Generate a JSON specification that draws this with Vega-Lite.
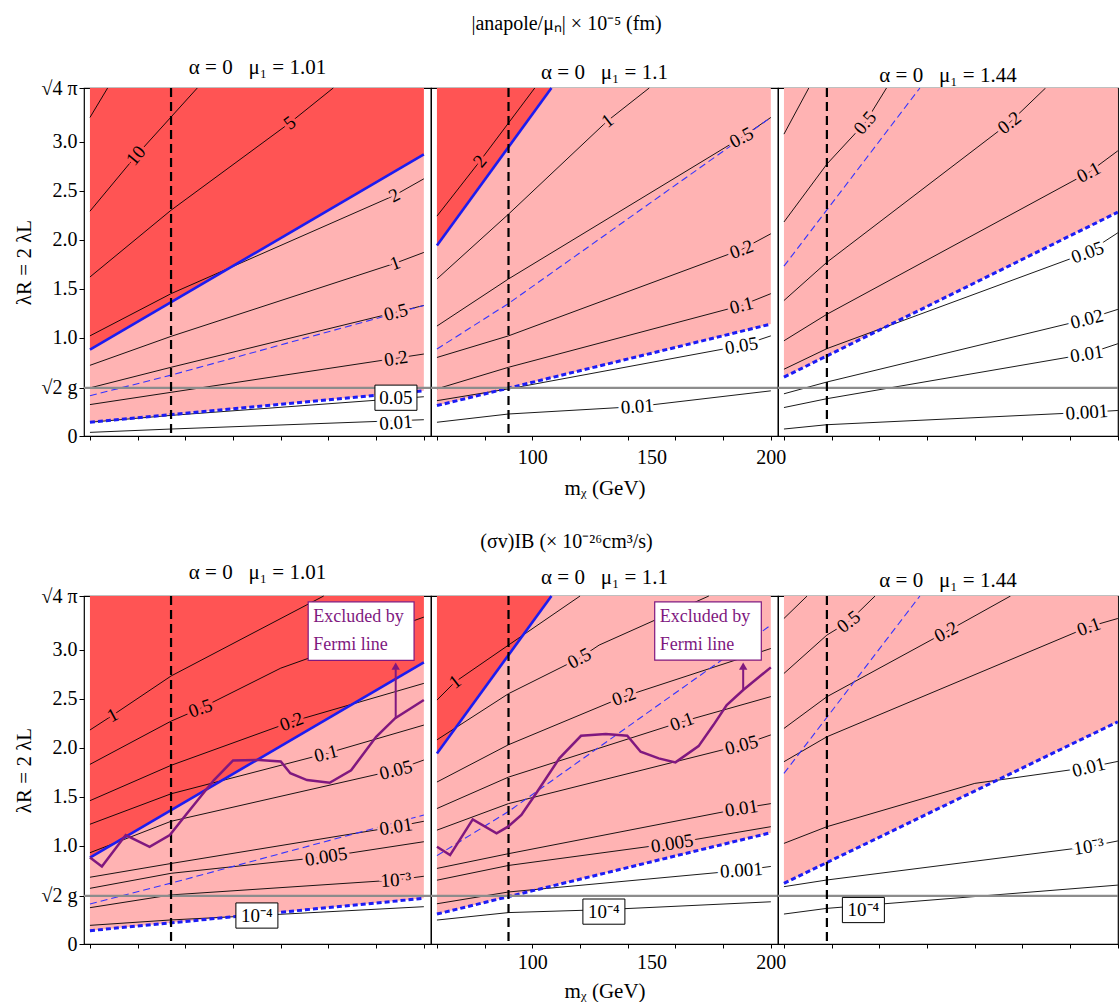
{
"$schema":"https://vega.github.io/schema/vega-lite/v6.json",
"padding":{"left":13,"top":14,"right":0,"bottom":0},
"config":{"font":"Liberation Serif","view":{"stroke":"black","strokeWidth":1.2},
"axis":{"grid":false,"domain":false,"labelFont":"Liberation Serif","labelFontSize":20,"labelColor":"black","tickColor":"black","titleFont":"Liberation Serif","titleFontSize":21,"titleFontWeight":"normal","titleColor":"black","labelFlush":false,"labelOverlap":false},
"title":{"font":"Liberation Serif","fontSize":21,"fontWeight":"normal","color":"black"}},
"datasets":{"d":[
{"p":"a1","k":"bs","x":60,"y":0.88},{"p":"a1","k":"bs","x":200,"y":2.87},
{"p":"a1","k":"bt","x":60,"y":0.14},{"p":"a1","k":"bt","x":200,"y":0.46},
{"p":"a1","k":"bd","x":60,"y":0.41},{"p":"a1","k":"bd","x":94,"y":0.62},{"p":"a1","k":"bd","x":200,"y":1.33},
{"p":"a1","k":"c","i":"20","x":60,"y":3.245},{"p":"a1","k":"c","i":"20","x":67.4,"y":3.545},
{"p":"a1","k":"c","i":"10","x":60,"y":2.29},{"p":"a1","k":"c","i":"10","x":79.3,"y":2.855},{"p":"a1","k":"c","i":"10","x":105,"y":3.545},
{"p":"a1","k":"c","i":"5","x":60,"y":1.62},{"p":"a1","k":"c","i":"5","x":94,"y":2.3},{"p":"a1","k":"c","i":"5","x":143.8,"y":3.19},{"p":"a1","k":"c","i":"5","x":162,"y":3.545},
{"p":"a1","k":"c","i":"2","x":60,"y":1.02},{"p":"a1","k":"c","i":"2","x":94,"y":1.45},{"p":"a1","k":"c","i":"2","x":187.6,"y":2.45},{"p":"a1","k":"c","i":"2","x":200,"y":2.62},
{"p":"a1","k":"c","i":"1","x":60,"y":0.72},{"p":"a1","k":"c","i":"1","x":94,"y":1.015},{"p":"a1","k":"c","i":"1","x":188,"y":1.76},{"p":"a1","k":"c","i":"1","x":200,"y":1.87},
{"p":"a1","k":"c","i":"0.5","x":60,"y":0.49},{"p":"a1","k":"c","i":"0.5","x":94,"y":0.70},{"p":"a1","k":"c","i":"0.5","x":200,"y":1.33},
{"p":"a1","k":"c","i":"0.2","x":60,"y":0.32},{"p":"a1","k":"c","i":"0.2","x":94,"y":0.445},{"p":"a1","k":"c","i":"0.2","x":200,"y":0.835},
{"p":"a1","k":"c","i":"0.05","x":60,"y":0.14},{"p":"a1","k":"c","i":"0.05","x":94,"y":0.21},{"p":"a1","k":"c","i":"0.05","x":200,"y":0.40},
{"p":"a1","k":"c","i":"0.01","x":60,"y":0.037},{"p":"a1","k":"c","i":"0.01","x":94,"y":0.071},{"p":"a1","k":"c","i":"0.01","x":200,"y":0.166},
{"p":"a1","k":"h","y":0.49},{"p":"a1","k":"v","x":94},
{"p":"a1","k":"t","t":"10","x":79.3,"y":2.855,"g":1,"b":"x"},
{"p":"a1","k":"t","t":"5","x":143.8,"y":3.19,"g":2,"b":"x"},
{"p":"a1","k":"t","t":"2","x":187.6,"y":2.45,"g":3,"b":"a"},
{"p":"a1","k":"t","t":"1","x":188,"y":1.76,"g":4,"b":"a"},
{"p":"a1","k":"t","t":"0.5","x":188.3,"y":1.26,"g":5,"b":"a"},
{"p":"a1","k":"t","t":"0.2","x":188.3,"y":0.79,"g":6,"b":"a"},
{"p":"a1","k":"t","t":"0.01","x":188.3,"y":0.135,"g":7,"b":"n"},
{"p":"a1","k":"tb","t":"0.05","x":188.3,"y":0.39},

{"p":"a2","k":"bs","x":60,"y":1.94},{"p":"a2","k":"bs","x":108,"y":3.545},
{"p":"a2","k":"bt","x":60,"y":0.31},{"p":"a2","k":"bt","x":200,"y":1.14},
{"p":"a2","k":"bd","x":60,"y":0.886},{"p":"a2","k":"bd","x":90,"y":1.35},{"p":"a2","k":"bd","x":200,"y":3.245},
{"p":"a2","k":"c","i":"2","x":60,"y":2.24},{"p":"a2","k":"c","i":"2","x":78,"y":2.8},{"p":"a2","k":"c","i":"2","x":101,"y":3.545},
{"p":"a2","k":"c","i":"1","x":60,"y":1.6},{"p":"a2","k":"c","i":"1","x":90,"y":2.26},{"p":"a2","k":"c","i":"1","x":131.5,"y":3.21},{"p":"a2","k":"c","i":"1","x":149,"y":3.545},
{"p":"a2","k":"c","i":"0.5","x":60,"y":1.12},{"p":"a2","k":"c","i":"0.5","x":90,"y":1.6},{"p":"a2","k":"c","i":"0.5","x":187.7,"y":3.04},{"p":"a2","k":"c","i":"0.5","x":200,"y":3.245},
{"p":"a2","k":"c","i":"0.2","x":60,"y":0.80},{"p":"a2","k":"c","i":"0.2","x":90,"y":1.02},{"p":"a2","k":"c","i":"0.2","x":187.7,"y":1.90},{"p":"a2","k":"c","i":"0.2","x":200,"y":2.06},
{"p":"a2","k":"c","i":"0.1","x":60,"y":0.48},{"p":"a2","k":"c","i":"0.1","x":90,"y":0.70},{"p":"a2","k":"c","i":"0.1","x":187.7,"y":1.33},{"p":"a2","k":"c","i":"0.1","x":200,"y":1.45},
{"p":"a2","k":"c","i":"0.05","x":60,"y":0.36},{"p":"a2","k":"c","i":"0.05","x":90,"y":0.48},{"p":"a2","k":"c","i":"0.05","x":187.7,"y":0.92},{"p":"a2","k":"c","i":"0.05","x":200,"y":1.02},
{"p":"a2","k":"c","i":"0.01","x":60,"y":0.14},{"p":"a2","k":"c","i":"0.01","x":90,"y":0.224},{"p":"a2","k":"c","i":"0.01","x":144,"y":0.30},{"p":"a2","k":"c","i":"0.01","x":200,"y":0.46},
{"p":"a2","k":"h","y":0.49},{"p":"a2","k":"v","x":90},
{"p":"a2","k":"t","t":"2","x":78,"y":2.8,"g":1,"b":"x"},
{"p":"a2","k":"t","t":"1","x":131.5,"y":3.21,"g":2,"b":"a"},
{"p":"a2","k":"t","t":"0.5","x":187.7,"y":3.04,"g":3,"b":"a"},
{"p":"a2","k":"t","t":"0.2","x":187.7,"y":1.90,"g":4,"b":"a"},
{"p":"a2","k":"t","t":"0.1","x":187.7,"y":1.33,"g":5,"b":"a"},
{"p":"a2","k":"t","t":"0.05","x":187.7,"y":0.92,"g":6,"b":"n"},
{"p":"a2","k":"t","t":"0.01","x":144,"y":0.30,"g":7,"b":"n"},

{"p":"a3","k":"bt","x":60,"y":0.6},{"p":"a3","k":"bt","x":200,"y":2.28},
{"p":"a3","k":"bd","x":60,"y":1.73},{"p":"a3","k":"bd","x":117,"y":3.545},
{"p":"a3","k":"c","i":"1","x":60,"y":3.075},{"p":"a3","k":"c","i":"1","x":70.4,"y":3.545},
{"p":"a3","k":"c","i":"0.5","x":60,"y":2.18},{"p":"a3","k":"c","i":"0.5","x":78,"y":2.77},{"p":"a3","k":"c","i":"0.5","x":94,"y":3.19},{"p":"a3","k":"c","i":"0.5","x":103,"y":3.545},
{"p":"a3","k":"c","i":"0.2","x":60,"y":1.38},{"p":"a3","k":"c","i":"0.2","x":78,"y":1.77},{"p":"a3","k":"c","i":"0.2","x":154.5,"y":3.19},{"p":"a3","k":"c","i":"0.2","x":169.7,"y":3.545},
{"p":"a3","k":"c","i":"0.1","x":60,"y":0.97},{"p":"a3","k":"c","i":"0.1","x":78,"y":1.24},{"p":"a3","k":"c","i":"0.1","x":187.8,"y":2.685},{"p":"a3","k":"c","i":"0.1","x":200,"y":2.905},
{"p":"a3","k":"c","i":"0.05","x":60,"y":0.68},{"p":"a3","k":"c","i":"0.05","x":78,"y":0.89},{"p":"a3","k":"c","i":"0.05","x":187.3,"y":1.87},{"p":"a3","k":"c","i":"0.05","x":200,"y":2.07},
{"p":"a3","k":"c","i":"0.02","x":60,"y":0.43},{"p":"a3","k":"c","i":"0.02","x":78,"y":0.55},{"p":"a3","k":"c","i":"0.02","x":187,"y":1.19},{"p":"a3","k":"c","i":"0.02","x":200,"y":1.29},
{"p":"a3","k":"c","i":"0.01","x":60,"y":0.29},{"p":"a3","k":"c","i":"0.01","x":78,"y":0.38},{"p":"a3","k":"c","i":"0.01","x":187,"y":0.835},{"p":"a3","k":"c","i":"0.01","x":200,"y":0.94},
{"p":"a3","k":"c","i":"0.001","x":60,"y":0.071},{"p":"a3","k":"c","i":"0.001","x":78,"y":0.115},{"p":"a3","k":"c","i":"0.001","x":187,"y":0.241},{"p":"a3","k":"c","i":"0.001","x":200,"y":0.26},
{"p":"a3","k":"h","y":0.49},{"p":"a3","k":"v","x":78},
{"p":"a3","k":"t","t":"0.5","x":94,"y":3.19,"g":1,"b":"a"},
{"p":"a3","k":"t","t":"0.2","x":154.5,"y":3.19,"g":2,"b":"a"},
{"p":"a3","k":"t","t":"0.1","x":187.8,"y":2.685,"g":3,"b":"a"},
{"p":"a3","k":"t","t":"0.05","x":187.3,"y":1.87,"g":4,"b":"n"},
{"p":"a3","k":"t","t":"0.02","x":187,"y":1.19,"g":5,"b":"n"},
{"p":"a3","k":"t","t":"0.01","x":187,"y":0.835,"g":6,"b":"n"},
{"p":"a3","k":"t","t":"0.001","x":187,"y":0.241,"g":7,"b":"n"},

{"p":"b1","k":"bs","x":60,"y":0.88},{"p":"b1","k":"bs","x":200,"y":2.87},
{"p":"b1","k":"bt","x":60,"y":0.136},{"p":"b1","k":"bt","x":200,"y":0.465},
{"p":"b1","k":"bd","x":60,"y":0.407},{"p":"b1","k":"bd","x":94,"y":0.62},{"p":"b1","k":"bd","x":200,"y":1.314},
{"p":"b1","k":"c","i":"1","x":60,"y":2.18},{"p":"b1","k":"c","i":"1","x":69.5,"y":2.33},{"p":"b1","k":"c","i":"1","x":94,"y":2.73},{"p":"b1","k":"c","i":"1","x":158,"y":3.545},
{"p":"b1","k":"c","i":"0.5","x":60,"y":1.83},{"p":"b1","k":"c","i":"0.5","x":94,"y":2.27},{"p":"b1","k":"c","i":"0.5","x":106.3,"y":2.40},{"p":"b1","k":"c","i":"0.5","x":140,"y":2.81},{"p":"b1","k":"c","i":"0.5","x":200,"y":3.33},
{"p":"b1","k":"c","i":"0.2","x":60,"y":1.46},{"p":"b1","k":"c","i":"0.2","x":94,"y":1.82},{"p":"b1","k":"c","i":"0.2","x":144.5,"y":2.264},{"p":"b1","k":"c","i":"0.2","x":200,"y":2.655},
{"p":"b1","k":"c","i":"0.1","x":60,"y":1.22},{"p":"b1","k":"c","i":"0.1","x":94,"y":1.53},{"p":"b1","k":"c","i":"0.1","x":159,"y":1.94},{"p":"b1","k":"c","i":"0.1","x":200,"y":2.23},
{"p":"b1","k":"c","i":"0.05","x":60,"y":0.93},{"p":"b1","k":"c","i":"0.05","x":94,"y":1.25},{"p":"b1","k":"c","i":"0.05","x":188.3,"y":1.772},{"p":"b1","k":"c","i":"0.05","x":200,"y":1.874},
{"p":"b1","k":"c","i":"0.01","x":60,"y":0.68},{"p":"b1","k":"c","i":"0.01","x":94,"y":0.82},{"p":"b1","k":"c","i":"0.01","x":188.3,"y":1.195},{"p":"b1","k":"c","i":"0.01","x":200,"y":1.25},
{"p":"b1","k":"c","i":"0.005","x":60,"y":0.567},{"p":"b1","k":"c","i":"0.005","x":94,"y":0.72},{"p":"b1","k":"c","i":"0.005","x":159,"y":0.889},{"p":"b1","k":"c","i":"0.005","x":200,"y":1.042},
{"p":"b1","k":"c","i":"0.001","x":60,"y":0.37},{"p":"b1","k":"c","i":"0.001","x":94,"y":0.50},{"p":"b1","k":"c","i":"0.001","x":188.3,"y":0.652},{"p":"b1","k":"c","i":"0.001","x":200,"y":0.69},
{"p":"b1","k":"c","i":"0.0001","x":60,"y":0.19},{"p":"b1","k":"c","i":"0.0001","x":94,"y":0.245},{"p":"b1","k":"c","i":"0.0001","x":130,"y":0.29},{"p":"b1","k":"c","i":"0.0001","x":200,"y":0.38},
{"p":"b1","k":"h","y":0.49},{"p":"b1","k":"v","x":94},
{"p":"b1","k":"t","t":"1","x":69.5,"y":2.33,"g":3,"b":"x"},
{"p":"b1","k":"t","t":"0.5","x":106.3,"y":2.40,"g":4,"b":"x"},
{"p":"b1","k":"t","t":"0.2","x":144.5,"y":2.264,"g":4,"b":"x"},
{"p":"b1","k":"t","t":"0.1","x":159,"y":1.94,"g":5,"b":"a"},
{"p":"b1","k":"t","t":"0.05","x":188.3,"y":1.772,"g":5,"b":"a"},
{"p":"b1","k":"t","t":"0.01","x":188.3,"y":1.195,"g":6,"b":"a"},
{"p":"b1","k":"t","t":"0.005","x":159,"y":0.889,"g":6,"b":"a"},
{"p":"b1","k":"t","t":"10⁻³","x":188.3,"y":0.652,"g":7,"b":"a"},
{"p":"b1","k":"tb","t":"10⁻⁴","x":130,"y":0.29},
{"p":"b1","k":"f","x":60,"y":0.88},{"p":"b1","k":"f","x":65,"y":0.79},{"p":"b1","k":"f","x":75,"y":1.11},{"p":"b1","k":"f","x":85,"y":0.99},{"p":"b1","k":"f","x":93.5,"y":1.11},{"p":"b1","k":"f","x":100,"y":1.31},{"p":"b1","k":"f","x":112,"y":1.67},{"p":"b1","k":"f","x":120,"y":1.87},{"p":"b1","k":"f","x":131,"y":1.875},{"p":"b1","k":"f","x":140,"y":1.86},{"p":"b1","k":"f","x":144,"y":1.74},{"p":"b1","k":"f","x":151,"y":1.67},{"p":"b1","k":"f","x":160.5,"y":1.643},{"p":"b1","k":"f","x":169.5,"y":1.77},{"p":"b1","k":"f","x":180,"y":2.11},{"p":"b1","k":"f","x":188,"y":2.30},{"p":"b1","k":"f","x":200,"y":2.485},
{"p":"b1","k":"fa","x":188.2,"y":2.30,"y2":2.80},{"p":"b1","k":"fh","x":188.2,"y":2.83},
{"p":"b1","k":"fb","x":151.5,"x2":195.9,"y":2.89,"y2":3.486},
{"p":"b1","k":"ft","t":"Excluded by","x":153.6,"y":3.333},{"p":"b1","k":"ft","t":"Fermi line","x":153.6,"y":3.045},

{"p":"b2","k":"bs","x":60,"y":1.94},{"p":"b2","k":"bs","x":108,"y":3.545},
{"p":"b2","k":"bt","x":60,"y":0.305},{"p":"b2","k":"bt","x":200,"y":1.134},
{"p":"b2","k":"bd","x":60,"y":0.90},{"p":"b2","k":"bd","x":90,"y":1.35},{"p":"b2","k":"bd","x":200,"y":3.248},
{"p":"b2","k":"c","i":"1","x":60,"y":2.485},{"p":"b2","k":"c","i":"1","x":67.6,"y":2.67},{"p":"b2","k":"c","i":"1","x":90,"y":3.045},{"p":"b2","k":"c","i":"1","x":120,"y":3.545},
{"p":"b2","k":"c","i":"0.5","x":60,"y":2.08},{"p":"b2","k":"c","i":"0.5","x":90,"y":2.55},{"p":"b2","k":"c","i":"0.5","x":119.7,"y":2.91},{"p":"b2","k":"c","i":"0.5","x":128,"y":3.045},{"p":"b2","k":"c","i":"0.5","x":174,"y":3.545},
{"p":"b2","k":"c","i":"0.2","x":60,"y":1.65},{"p":"b2","k":"c","i":"0.2","x":90,"y":2.03},{"p":"b2","k":"c","i":"0.2","x":138.4,"y":2.52},{"p":"b2","k":"c","i":"0.2","x":200,"y":3.01},
{"p":"b2","k":"c","i":"0.1","x":60,"y":1.38},{"p":"b2","k":"c","i":"0.1","x":90,"y":1.70},{"p":"b2","k":"c","i":"0.1","x":162.7,"y":2.264},{"p":"b2","k":"c","i":"0.1","x":200,"y":2.52},
{"p":"b2","k":"c","i":"0.05","x":60,"y":1.16},{"p":"b2","k":"c","i":"0.05","x":90,"y":1.43},{"p":"b2","k":"c","i":"0.05","x":187.7,"y":2.026},{"p":"b2","k":"c","i":"0.05","x":200,"y":2.13},
{"p":"b2","k":"c","i":"0.01","x":60,"y":0.77},{"p":"b2","k":"c","i":"0.01","x":90,"y":0.92},{"p":"b2","k":"c","i":"0.01","x":187.7,"y":1.382},{"p":"b2","k":"c","i":"0.01","x":200,"y":1.43},
{"p":"b2","k":"c","i":"0.005","x":60,"y":0.65},{"p":"b2","k":"c","i":"0.005","x":90,"y":0.80},{"p":"b2","k":"c","i":"0.005","x":158.6,"y":1.025},{"p":"b2","k":"c","i":"0.005","x":200,"y":1.195},
{"p":"b2","k":"c","i":"0.001","x":60,"y":0.41},{"p":"b2","k":"c","i":"0.001","x":90,"y":0.53},{"p":"b2","k":"c","i":"0.001","x":187.7,"y":0.75},{"p":"b2","k":"c","i":"0.001","x":200,"y":0.79},
{"p":"b2","k":"c","i":"0.0001","x":60,"y":0.244},{"p":"b2","k":"c","i":"0.0001","x":90,"y":0.32},{"p":"b2","k":"c","i":"0.0001","x":130,"y":0.35},{"p":"b2","k":"c","i":"0.0001","x":200,"y":0.43},
{"p":"b2","k":"h","y":0.49},{"p":"b2","k":"v","x":90},
{"p":"b2","k":"t","t":"1","x":67.6,"y":2.67,"g":2,"b":"x"},
{"p":"b2","k":"t","t":"0.5","x":119.7,"y":2.91,"g":3,"b":"a"},
{"p":"b2","k":"t","t":"0.2","x":138.4,"y":2.52,"g":4,"b":"a"},
{"p":"b2","k":"t","t":"0.1","x":162.7,"y":2.264,"g":4,"b":"a"},
{"p":"b2","k":"t","t":"0.05","x":187.7,"y":2.026,"g":5,"b":"a"},
{"p":"b2","k":"t","t":"0.01","x":187.7,"y":1.382,"g":6,"b":"a"},
{"p":"b2","k":"t","t":"0.005","x":158.6,"y":1.025,"g":6,"b":"a"},
{"p":"b2","k":"t","t":"0.001","x":187.7,"y":0.75,"g":7,"b":"n"},
{"p":"b2","k":"tb","t":"10⁻⁴","x":130,"y":0.33},
{"p":"b2","k":"f","x":60,"y":0.99},{"p":"b2","k":"f","x":65.5,"y":0.906},{"p":"b2","k":"f","x":75,"y":1.27},{"p":"b2","k":"f","x":85,"y":1.127},{"p":"b2","k":"f","x":89.8,"y":1.195},{"p":"b2","k":"f","x":95.4,"y":1.314},{"p":"b2","k":"f","x":101.6,"y":1.535},{"p":"b2","k":"f","x":111.3,"y":1.891},{"p":"b2","k":"f","x":120.4,"y":2.121},{"p":"b2","k":"f","x":130.8,"y":2.138},{"p":"b2","k":"f","x":139.8,"y":2.121},{"p":"b2","k":"f","x":145.4,"y":1.958},{"p":"b2","k":"f","x":153,"y":1.891},{"p":"b2","k":"f","x":160,"y":1.85},{"p":"b2","k":"f","x":169.7,"y":2.016},{"p":"b2","k":"f","x":175.9,"y":2.23},{"p":"b2","k":"f","x":181.5,"y":2.434},{"p":"b2","k":"f","x":188.4,"y":2.587},{"p":"b2","k":"f","x":200,"y":2.818},
{"p":"b2","k":"fa","x":188.4,"y":2.587,"y2":2.80},{"p":"b2","k":"fh","x":188.4,"y":2.83},
{"p":"b2","k":"fb","x":151.3,"x2":196,"y":2.892,"y2":3.486},
{"p":"b2","k":"ft","t":"Excluded by","x":153.4,"y":3.333},{"p":"b2","k":"ft","t":"Fermi line","x":153.4,"y":3.045},

{"p":"b3","k":"bt","x":60,"y":0.618},{"p":"b3","k":"bt","x":200,"y":2.264},
{"p":"b3","k":"bd","x":60,"y":1.738},{"p":"b3","k":"bd","x":117,"y":3.545},
{"p":"b3","k":"c","i":"1","x":60,"y":3.316},{"p":"b3","k":"c","i":"1","x":69.7,"y":3.545},
{"p":"b3","k":"c","i":"0.5","x":60,"y":2.756},{"p":"b3","k":"c","i":"0.5","x":78,"y":3.147},{"p":"b3","k":"c","i":"0.5","x":87.1,"y":3.282},{"p":"b3","k":"c","i":"0.5","x":98.2,"y":3.545},
{"p":"b3","k":"c","i":"0.2","x":60,"y":2.196},{"p":"b3","k":"c","i":"0.2","x":78,"y":2.519},{"p":"b3","k":"c","i":"0.2","x":128,"y":3.18},{"p":"b3","k":"c","i":"0.2","x":155,"y":3.545},
{"p":"b3","k":"c","i":"0.1","x":60,"y":1.857},{"p":"b3","k":"c","i":"0.1","x":78,"y":2.111},{"p":"b3","k":"c","i":"0.1","x":187.8,"y":3.231},{"p":"b3","k":"c","i":"0.1","x":200,"y":3.316},
{"p":"b3","k":"c","i":"0.01","x":60,"y":1.025},{"p":"b3","k":"c","i":"0.01","x":78,"y":1.195},{"p":"b3","k":"c","i":"0.01","x":140,"y":1.636},{"p":"b3","k":"c","i":"0.01","x":187.8,"y":1.80},{"p":"b3","k":"c","i":"0.01","x":200,"y":1.86},
{"p":"b3","k":"c","i":"0.001","x":60,"y":0.584},{"p":"b3","k":"c","i":"0.001","x":78,"y":0.652},{"p":"b3","k":"c","i":"0.001","x":187.8,"y":0.991},{"p":"b3","k":"c","i":"0.001","x":200,"y":1.05},
{"p":"b3","k":"c","i":"0.0001","x":60,"y":0.305},{"p":"b3","k":"c","i":"0.0001","x":78,"y":0.363},{"p":"b3","k":"c","i":"0.0001","x":200,"y":0.60},
{"p":"b3","k":"h","y":0.49},{"p":"b3","k":"v","x":78},
{"p":"b3","k":"t","t":"0.5","x":87.1,"y":3.282,"g":2,"b":"a"},
{"p":"b3","k":"t","t":"0.2","x":128,"y":3.18,"g":3,"b":"a"},
{"p":"b3","k":"t","t":"0.1","x":187.8,"y":3.231,"g":4,"b":"a"},
{"p":"b3","k":"t","t":"0.01","x":187.8,"y":1.80,"g":5,"b":"n"},
{"p":"b3","k":"t","t":"10⁻³","x":187.8,"y":0.991,"g":6,"b":"n"},
{"p":"b3","k":"tb","t":"10⁻⁴","x":93.3,"y":0.346}
]},
"data":{"name":"d"},
"spacing":33,
"vconcat":[
{"title":{"text":"|anapole/μₙ| × 10⁻⁵ (fm)","fontSize":20,"offset":22,"anchor":"middle"},
"spacing":0,"bounds":"flush",
"hconcat":[
{"width":347,"height":348,"title":{"text":"α = 0\u00a0\u00a0\u00a0μ₁ = 1.01","offset":0},
"transform":[{"filter":"datum.p == 'a1'"}],
"layer":[
{"transform":[{"filter":"datum.k == 'bt'"}],"mark":{"type":"area","color":"#ffb3b3"},"encoding":{"x":{"field":"x","type":"quantitative","scale":{"domain":[57.5,203],"nice":false,"zero":false},"axis":{"values":[60,70,80,90,100,110,120,130,140,150,160,170,180,190,200],"labels":false,"title":null,"tickSize":4}},"y":{"field":"y","type":"quantitative","scale":{"domain":[0,3.545],"nice":false,"zero":false},"axis":{"values":[0,0.49,1,1.5,2,2.5,3,3.545],"labelExpr":"datum.value == 0 ? '0' : datum.value < 0.6 ? '√2 g' : datum.value > 3.5 ? '√4 π' : format(datum.value, '.1f')","title":"λR = 2 λL","tickSize":5,"titlePadding":6}},"y2":{"datum":3.545}}},
{"transform":[{"filter":"datum.k == 'bs'"}],"mark":{"type":"area","color":"#ff5454"},"encoding":{"x":{"field":"x","type":"quantitative"},"y":{"field":"y","type":"quantitative"},"y2":{"datum":3.545}}},
{"transform":[{"filter":"datum.k == 'c'"}],"mark":{"type":"line","color":"black","strokeWidth":0.9},"encoding":{"x":{"field":"x","type":"quantitative"},"y":{"field":"y","type":"quantitative"},"detail":{"field":"i"}}},
{"transform":[{"filter":"datum.k == 'bd'"}],"mark":{"type":"line","color":"#3434ff","strokeWidth":1.1,"strokeDash":[7,4]},"encoding":{"x":{"field":"x","type":"quantitative"},"y":{"field":"y","type":"quantitative"}}},
{"transform":[{"filter":"datum.k == 'bt'"}],"mark":{"type":"line","color":"#1c1cf5","strokeWidth":3,"strokeDash":[5,3]},"encoding":{"x":{"field":"x","type":"quantitative"},"y":{"field":"y","type":"quantitative"}}},
{"transform":[{"filter":"datum.k == 'bs'"}],"mark":{"type":"line","color":"#1c1cf0","strokeWidth":2.6},"encoding":{"x":{"field":"x","type":"quantitative"},"y":{"field":"y","type":"quantitative"}}},
{"transform":[{"filter":"datum.k == 'h'"}],"mark":{"type":"rule","color":"#8c8c8c","strokeWidth":2.2},"encoding":{"y":{"field":"y","type":"quantitative"}}},
{"transform":[{"filter":"datum.k == 'v'"}],"mark":{"type":"rule","color":"black","strokeWidth":2.2,"strokeDash":[9,5]},"encoding":{"x":{"field":"x","type":"quantitative"}}},
{"transform":[{"filter":"datum.k == 't'"}],"mark":{"type":"text","fontSize":19,"strokeWidth":6},"encoding":{"x":{"field":"x","type":"quantitative"},"y":{"field":"y","type":"quantitative"},"text":{"field":"t"},"angle":{"field":"g","type":"quantitative","scale":{"domain":[1,2,3,4,5,6,7],"range":[310,322,332,340,346,351,356]}},"fill":{"field":"b","type":"nominal","scale":{"domain":["x","a","n"],"range":["#ff5454","#ffb3b3","#ffffff"]},"legend":null},"stroke":{"field":"b","type":"nominal","scale":{"domain":["x","a","n"],"range":["#ff5454","#ffb3b3","#ffffff"]},"legend":null}}},
{"transform":[{"filter":"datum.k == 't'"}],"mark":{"type":"text","fontSize":19,"color":"black"},"encoding":{"x":{"field":"x","type":"quantitative"},"y":{"field":"y","type":"quantitative"},"text":{"field":"t"},"angle":{"field":"g","type":"quantitative"}}},
{"transform":[{"filter":"datum.k == 'tb'"}],"mark":{"type":"point","shape":"M-1,-0.6H1V0.6H-1Z","size":1764,"filled":true,"fill":"white","stroke":"black","strokeWidth":1,"opacity":1},"encoding":{"x":{"field":"x","type":"quantitative"},"y":{"field":"y","type":"quantitative"}}},
{"transform":[{"filter":"datum.k == 'tb'"}],"mark":{"type":"text","fontSize":19,"color":"black"},"encoding":{"x":{"field":"x","type":"quantitative"},"y":{"field":"y","type":"quantitative"},"text":{"field":"t"}}}
]},
{"width":347,"height":348,"title":{"text":"α = 0\u00a0\u00a0\u00a0μ₁ = 1.1","offset":0},
"transform":[{"filter":"datum.p == 'a2'"}],
"resolve":{"axis":{"x":"independent"}},
"layer":[
{"layer":[
{"transform":[{"filter":"datum.k == 'bt'"}],"mark":{"type":"area","color":"#ffb3b3"},"encoding":{"x":{"field":"x","type":"quantitative","scale":{"domain":[57.5,203],"nice":false,"zero":false},"axis":{"orient":"bottom","values":[60,70,80,90,100,110,120,130,140,150,160,170,180,190,200],"labels":false,"title":null,"tickSize":4}},"y":{"field":"y","type":"quantitative","scale":{"domain":[0,3.545],"nice":false,"zero":false},"axis":{"labels":false,"ticks":false,"title":null}},"y2":{"datum":3.545}}},
{"transform":[{"filter":"datum.k == 'bs'"}],"mark":{"type":"area","color":"#ff5454"},"encoding":{"x":{"field":"x","type":"quantitative"},"y":{"field":"y","type":"quantitative"},"y2":{"datum":3.545}}},
{"transform":[{"filter":"datum.k == 'c'"}],"mark":{"type":"line","color":"black","strokeWidth":0.9},"encoding":{"x":{"field":"x","type":"quantitative"},"y":{"field":"y","type":"quantitative"},"detail":{"field":"i"}}},
{"transform":[{"filter":"datum.k == 'bd'"}],"mark":{"type":"line","color":"#3434ff","strokeWidth":1.1,"strokeDash":[7,4]},"encoding":{"x":{"field":"x","type":"quantitative"},"y":{"field":"y","type":"quantitative"}}},
{"transform":[{"filter":"datum.k == 'bt'"}],"mark":{"type":"line","color":"#1c1cf5","strokeWidth":3,"strokeDash":[5,3]},"encoding":{"x":{"field":"x","type":"quantitative"},"y":{"field":"y","type":"quantitative"}}},
{"transform":[{"filter":"datum.k == 'bs'"}],"mark":{"type":"line","color":"#1c1cf0","strokeWidth":2.6},"encoding":{"x":{"field":"x","type":"quantitative"},"y":{"field":"y","type":"quantitative"}}},
{"transform":[{"filter":"datum.k == 'h'"}],"mark":{"type":"rule","color":"#8c8c8c","strokeWidth":2.2},"encoding":{"y":{"field":"y","type":"quantitative"}}},
{"transform":[{"filter":"datum.k == 'v'"}],"mark":{"type":"rule","color":"black","strokeWidth":2.2,"strokeDash":[9,5]},"encoding":{"x":{"field":"x","type":"quantitative"}}},
{"transform":[{"filter":"datum.k == 't'"}],"mark":{"type":"text","fontSize":19,"strokeWidth":6},"encoding":{"x":{"field":"x","type":"quantitative"},"y":{"field":"y","type":"quantitative"},"text":{"field":"t"},"angle":{"field":"g","type":"quantitative","scale":{"domain":[1,2,3,4,5,6,7],"range":[310,322,332,340,346,351,356]}},"fill":{"field":"b","type":"nominal","scale":{"domain":["x","a","n"],"range":["#ff5454","#ffb3b3","#ffffff"]},"legend":null},"stroke":{"field":"b","type":"nominal","scale":{"domain":["x","a","n"],"range":["#ff5454","#ffb3b3","#ffffff"]},"legend":null}}},
{"transform":[{"filter":"datum.k == 't'"}],"mark":{"type":"text","fontSize":19,"color":"black"},"encoding":{"x":{"field":"x","type":"quantitative"},"y":{"field":"y","type":"quantitative"},"text":{"field":"t"},"angle":{"field":"g","type":"quantitative"}}}
]},
{"transform":[{"filter":"datum.k == 'v'"}],"mark":{"type":"rule","opacity":0},"encoding":{"x":{"field":"x","type":"quantitative","axis":{"orient":"bottom","values":[100,150,200],"ticks":false,"labelPadding":11,"title":"mᵪ (GeV)","titlePadding":10}}}}
]},
{"width":340,"height":348,"title":{"text":"α = 0\u00a0\u00a0\u00a0μ₁ = 1.44","offset":0},
"transform":[{"filter":"datum.p == 'a3'"}],
"layer":[
{"transform":[{"filter":"datum.k == 'bt'"}],"mark":{"type":"area","color":"#ffb3b3"},"encoding":{"x":{"field":"x","type":"quantitative","scale":{"domain":[57.5,200.06],"nice":false,"zero":false},"axis":{"values":[60,70,80,90,100,110,120,130,140,150,160,170,180,190,200],"labels":false,"title":null,"tickSize":4}},"y":{"field":"y","type":"quantitative","scale":{"domain":[0,3.545],"nice":false,"zero":false},"axis":{"labels":false,"ticks":false,"title":null}},"y2":{"datum":3.545}}},
{"transform":[{"filter":"datum.k == 'c'"}],"mark":{"type":"line","color":"black","strokeWidth":0.9,"clip":true},"encoding":{"x":{"field":"x","type":"quantitative"},"y":{"field":"y","type":"quantitative"},"detail":{"field":"i"}}},
{"transform":[{"filter":"datum.k == 'bd'"}],"mark":{"type":"line","color":"#3434ff","strokeWidth":1.1,"strokeDash":[7,4]},"encoding":{"x":{"field":"x","type":"quantitative"},"y":{"field":"y","type":"quantitative"}}},
{"transform":[{"filter":"datum.k == 'bt'"}],"mark":{"type":"line","color":"#1c1cf5","strokeWidth":3,"strokeDash":[5,3],"clip":true},"encoding":{"x":{"field":"x","type":"quantitative"},"y":{"field":"y","type":"quantitative"}}},
{"transform":[{"filter":"datum.k == 'h'"}],"mark":{"type":"rule","color":"#8c8c8c","strokeWidth":2.2},"encoding":{"y":{"field":"y","type":"quantitative"}}},
{"transform":[{"filter":"datum.k == 'v'"}],"mark":{"type":"rule","color":"black","strokeWidth":2.2,"strokeDash":[9,5]},"encoding":{"x":{"field":"x","type":"quantitative"}}},
{"transform":[{"filter":"datum.k == 't'"}],"mark":{"type":"text","fontSize":19,"strokeWidth":6},"encoding":{"x":{"field":"x","type":"quantitative"},"y":{"field":"y","type":"quantitative"},"text":{"field":"t"},"angle":{"field":"g","type":"quantitative","scale":{"domain":[1,2,3,4,5,6,7],"range":[310,322,332,340,346,351,356]}},"fill":{"field":"b","type":"nominal","scale":{"domain":["x","a","n"],"range":["#ff5454","#ffb3b3","#ffffff"]},"legend":null},"stroke":{"field":"b","type":"nominal","scale":{"domain":["x","a","n"],"range":["#ff5454","#ffb3b3","#ffffff"]},"legend":null}}},
{"transform":[{"filter":"datum.k == 't'"}],"mark":{"type":"text","fontSize":19,"color":"black"},"encoding":{"x":{"field":"x","type":"quantitative"},"y":{"field":"y","type":"quantitative"},"text":{"field":"t"},"angle":{"field":"g","type":"quantitative"}}}
]}
]},
{"title":{"text":"(σv)IB (× 10⁻²⁶cm³/s)","fontSize":20,"offset":9,"anchor":"middle"},
"spacing":0,"bounds":"flush",
"hconcat":[
{"width":347,"height":348,"title":{"text":"α = 0\u00a0\u00a0\u00a0μ₁ = 1.01","offset":3},
"transform":[{"filter":"datum.p == 'b1'"}],
"layer":[
{"transform":[{"filter":"datum.k == 'bt'"}],"mark":{"type":"area","color":"#ffb3b3"},"encoding":{"x":{"field":"x","type":"quantitative","scale":{"domain":[57.5,203],"nice":false,"zero":false},"axis":{"values":[60,70,80,90,100,110,120,130,140,150,160,170,180,190,200],"labels":false,"title":null,"tickSize":4}},"y":{"field":"y","type":"quantitative","scale":{"domain":[0,3.545],"nice":false,"zero":false},"axis":{"values":[0,0.49,1,1.5,2,2.5,3,3.545],"labelExpr":"datum.value == 0 ? '0' : datum.value < 0.6 ? '√2 g' : datum.value > 3.5 ? '√4 π' : format(datum.value, '.1f')","title":"λR = 2 λL","tickSize":5,"titlePadding":6}},"y2":{"datum":3.545}}},
{"transform":[{"filter":"datum.k == 'bs'"}],"mark":{"type":"area","color":"#ff5454"},"encoding":{"x":{"field":"x","type":"quantitative"},"y":{"field":"y","type":"quantitative"},"y2":{"datum":3.545}}},
{"transform":[{"filter":"datum.k == 'c'"}],"mark":{"type":"line","color":"black","strokeWidth":0.9},"encoding":{"x":{"field":"x","type":"quantitative"},"y":{"field":"y","type":"quantitative"},"detail":{"field":"i"}}},
{"transform":[{"filter":"datum.k == 'bd'"}],"mark":{"type":"line","color":"#3434ff","strokeWidth":1.1,"strokeDash":[7,4]},"encoding":{"x":{"field":"x","type":"quantitative"},"y":{"field":"y","type":"quantitative"}}},
{"transform":[{"filter":"datum.k == 'bt'"}],"mark":{"type":"line","color":"#1c1cf5","strokeWidth":3,"strokeDash":[5,3]},"encoding":{"x":{"field":"x","type":"quantitative"},"y":{"field":"y","type":"quantitative"}}},
{"transform":[{"filter":"datum.k == 'bs'"}],"mark":{"type":"line","color":"#1c1cf0","strokeWidth":2.6},"encoding":{"x":{"field":"x","type":"quantitative"},"y":{"field":"y","type":"quantitative"}}},
{"transform":[{"filter":"datum.k == 'h'"}],"mark":{"type":"rule","color":"#8c8c8c","strokeWidth":2.2},"encoding":{"y":{"field":"y","type":"quantitative"}}},
{"transform":[{"filter":"datum.k == 'v'"}],"mark":{"type":"rule","color":"black","strokeWidth":2.2,"strokeDash":[9,5]},"encoding":{"x":{"field":"x","type":"quantitative"}}},
{"transform":[{"filter":"datum.k == 't'"}],"mark":{"type":"text","fontSize":19,"strokeWidth":6},"encoding":{"x":{"field":"x","type":"quantitative"},"y":{"field":"y","type":"quantitative"},"text":{"field":"t"},"angle":{"field":"g","type":"quantitative","scale":{"domain":[1,2,3,4,5,6,7],"range":[310,322,332,340,346,351,356]}},"fill":{"field":"b","type":"nominal","scale":{"domain":["x","a","n"],"range":["#ff5454","#ffb3b3","#ffffff"]},"legend":null},"stroke":{"field":"b","type":"nominal","scale":{"domain":["x","a","n"],"range":["#ff5454","#ffb3b3","#ffffff"]},"legend":null}}},
{"transform":[{"filter":"datum.k == 't'"}],"mark":{"type":"text","fontSize":19,"color":"black"},"encoding":{"x":{"field":"x","type":"quantitative"},"y":{"field":"y","type":"quantitative"},"text":{"field":"t"},"angle":{"field":"g","type":"quantitative"}}},
{"transform":[{"filter":"datum.k == 'tb'"}],"mark":{"type":"point","shape":"M-1,-0.6H1V0.6H-1Z","size":1764,"filled":true,"fill":"white","stroke":"black","strokeWidth":1,"opacity":1},"encoding":{"x":{"field":"x","type":"quantitative"},"y":{"field":"y","type":"quantitative"}}},
{"transform":[{"filter":"datum.k == 'tb'"}],"mark":{"type":"text","fontSize":19,"color":"black"},"encoding":{"x":{"field":"x","type":"quantitative"},"y":{"field":"y","type":"quantitative"},"text":{"field":"t"}}},
{"transform":[{"filter":"datum.k == 'f'"}],"mark":{"type":"line","color":"#80187f","strokeWidth":2.5},"encoding":{"x":{"field":"x","type":"quantitative"},"y":{"field":"y","type":"quantitative"}}},
{"transform":[{"filter":"datum.k == 'fa'"}],"mark":{"type":"rule","color":"#80187f","strokeWidth":2},"encoding":{"x":{"field":"x","type":"quantitative"},"y":{"field":"y","type":"quantitative"},"y2":{"field":"y2"}}},
{"transform":[{"filter":"datum.k == 'fh'"}],"mark":{"type":"point","shape":"triangle-up","size":70,"filled":true,"color":"#80187f","opacity":1},"encoding":{"x":{"field":"x","type":"quantitative"},"y":{"field":"y","type":"quantitative"}}},
{"transform":[{"filter":"datum.k == 'fb'"}],"mark":{"type":"rect","fill":"white","stroke":"#80187f","strokeWidth":1.2},"encoding":{"x":{"field":"x","type":"quantitative"},"x2":{"field":"x2"},"y":{"field":"y","type":"quantitative"},"y2":{"field":"y2"}}},
{"transform":[{"filter":"datum.k == 'ft'"}],"mark":{"type":"text","fontSize":18,"align":"left","color":"#80187f"},"encoding":{"x":{"field":"x","type":"quantitative"},"y":{"field":"y","type":"quantitative"},"text":{"field":"t"}}}
]},
{"width":347,"height":348,"title":{"text":"α = 0\u00a0\u00a0\u00a0μ₁ = 1.1","offset":3},
"transform":[{"filter":"datum.p == 'b2'"}],
"resolve":{"axis":{"x":"independent"}},
"layer":[
{"layer":[
{"transform":[{"filter":"datum.k == 'bt'"}],"mark":{"type":"area","color":"#ffb3b3"},"encoding":{"x":{"field":"x","type":"quantitative","scale":{"domain":[57.5,203],"nice":false,"zero":false},"axis":{"orient":"bottom","values":[60,70,80,90,100,110,120,130,140,150,160,170,180,190,200],"labels":false,"title":null,"tickSize":4}},"y":{"field":"y","type":"quantitative","scale":{"domain":[0,3.545],"nice":false,"zero":false},"axis":{"labels":false,"ticks":false,"title":null}},"y2":{"datum":3.545}}},
{"transform":[{"filter":"datum.k == 'bs'"}],"mark":{"type":"area","color":"#ff5454"},"encoding":{"x":{"field":"x","type":"quantitative"},"y":{"field":"y","type":"quantitative"},"y2":{"datum":3.545}}},
{"transform":[{"filter":"datum.k == 'c'"}],"mark":{"type":"line","color":"black","strokeWidth":0.9},"encoding":{"x":{"field":"x","type":"quantitative"},"y":{"field":"y","type":"quantitative"},"detail":{"field":"i"}}},
{"transform":[{"filter":"datum.k == 'bd'"}],"mark":{"type":"line","color":"#3434ff","strokeWidth":1.1,"strokeDash":[7,4]},"encoding":{"x":{"field":"x","type":"quantitative"},"y":{"field":"y","type":"quantitative"}}},
{"transform":[{"filter":"datum.k == 'bt'"}],"mark":{"type":"line","color":"#1c1cf5","strokeWidth":3,"strokeDash":[5,3]},"encoding":{"x":{"field":"x","type":"quantitative"},"y":{"field":"y","type":"quantitative"}}},
{"transform":[{"filter":"datum.k == 'bs'"}],"mark":{"type":"line","color":"#1c1cf0","strokeWidth":2.6},"encoding":{"x":{"field":"x","type":"quantitative"},"y":{"field":"y","type":"quantitative"}}},
{"transform":[{"filter":"datum.k == 'h'"}],"mark":{"type":"rule","color":"#8c8c8c","strokeWidth":2.2},"encoding":{"y":{"field":"y","type":"quantitative"}}},
{"transform":[{"filter":"datum.k == 'v'"}],"mark":{"type":"rule","color":"black","strokeWidth":2.2,"strokeDash":[9,5]},"encoding":{"x":{"field":"x","type":"quantitative"}}},
{"transform":[{"filter":"datum.k == 't'"}],"mark":{"type":"text","fontSize":19,"strokeWidth":6},"encoding":{"x":{"field":"x","type":"quantitative"},"y":{"field":"y","type":"quantitative"},"text":{"field":"t"},"angle":{"field":"g","type":"quantitative","scale":{"domain":[1,2,3,4,5,6,7],"range":[310,322,332,340,346,351,356]}},"fill":{"field":"b","type":"nominal","scale":{"domain":["x","a","n"],"range":["#ff5454","#ffb3b3","#ffffff"]},"legend":null},"stroke":{"field":"b","type":"nominal","scale":{"domain":["x","a","n"],"range":["#ff5454","#ffb3b3","#ffffff"]},"legend":null}}},
{"transform":[{"filter":"datum.k == 't'"}],"mark":{"type":"text","fontSize":19,"color":"black"},"encoding":{"x":{"field":"x","type":"quantitative"},"y":{"field":"y","type":"quantitative"},"text":{"field":"t"},"angle":{"field":"g","type":"quantitative"}}},
{"transform":[{"filter":"datum.k == 'tb'"}],"mark":{"type":"point","shape":"M-1,-0.6H1V0.6H-1Z","size":1764,"filled":true,"fill":"white","stroke":"black","strokeWidth":1,"opacity":1},"encoding":{"x":{"field":"x","type":"quantitative"},"y":{"field":"y","type":"quantitative"}}},
{"transform":[{"filter":"datum.k == 'tb'"}],"mark":{"type":"text","fontSize":19,"color":"black"},"encoding":{"x":{"field":"x","type":"quantitative"},"y":{"field":"y","type":"quantitative"},"text":{"field":"t"}}},
{"transform":[{"filter":"datum.k == 'f'"}],"mark":{"type":"line","color":"#80187f","strokeWidth":2.5},"encoding":{"x":{"field":"x","type":"quantitative"},"y":{"field":"y","type":"quantitative"}}},
{"transform":[{"filter":"datum.k == 'fa'"}],"mark":{"type":"rule","color":"#80187f","strokeWidth":2},"encoding":{"x":{"field":"x","type":"quantitative"},"y":{"field":"y","type":"quantitative"},"y2":{"field":"y2"}}},
{"transform":[{"filter":"datum.k == 'fh'"}],"mark":{"type":"point","shape":"triangle-up","size":70,"filled":true,"color":"#80187f","opacity":1},"encoding":{"x":{"field":"x","type":"quantitative"},"y":{"field":"y","type":"quantitative"}}},
{"transform":[{"filter":"datum.k == 'fb'"}],"mark":{"type":"rect","fill":"white","stroke":"#80187f","strokeWidth":1.2},"encoding":{"x":{"field":"x","type":"quantitative"},"x2":{"field":"x2"},"y":{"field":"y","type":"quantitative"},"y2":{"field":"y2"}}},
{"transform":[{"filter":"datum.k == 'ft'"}],"mark":{"type":"text","fontSize":18,"align":"left","color":"#80187f"},"encoding":{"x":{"field":"x","type":"quantitative"},"y":{"field":"y","type":"quantitative"},"text":{"field":"t"}}}
]},
{"transform":[{"filter":"datum.k == 'v'"}],"mark":{"type":"rule","opacity":0},"encoding":{"x":{"field":"x","type":"quantitative","axis":{"orient":"bottom","values":[100,150,200],"ticks":false,"labelPadding":8,"title":"mᵪ (GeV)","titlePadding":8}}}}
]},
{"width":340,"height":348,"title":{"text":"α = 0\u00a0\u00a0\u00a0μ₁ = 1.44","offset":3},
"transform":[{"filter":"datum.p == 'b3'"}],
"layer":[
{"transform":[{"filter":"datum.k == 'bt'"}],"mark":{"type":"area","color":"#ffb3b3"},"encoding":{"x":{"field":"x","type":"quantitative","scale":{"domain":[57.5,200.06],"nice":false,"zero":false},"axis":{"values":[60,70,80,90,100,110,120,130,140,150,160,170,180,190,200],"labels":false,"title":null,"tickSize":4}},"y":{"field":"y","type":"quantitative","scale":{"domain":[0,3.545],"nice":false,"zero":false},"axis":{"labels":false,"ticks":false,"title":null}},"y2":{"datum":3.545}}},
{"transform":[{"filter":"datum.k == 'c'"}],"mark":{"type":"line","color":"black","strokeWidth":0.9,"clip":true},"encoding":{"x":{"field":"x","type":"quantitative"},"y":{"field":"y","type":"quantitative"},"detail":{"field":"i"}}},
{"transform":[{"filter":"datum.k == 'bd'"}],"mark":{"type":"line","color":"#3434ff","strokeWidth":1.1,"strokeDash":[7,4]},"encoding":{"x":{"field":"x","type":"quantitative"},"y":{"field":"y","type":"quantitative"}}},
{"transform":[{"filter":"datum.k == 'bt'"}],"mark":{"type":"line","color":"#1c1cf5","strokeWidth":3,"strokeDash":[5,3],"clip":true},"encoding":{"x":{"field":"x","type":"quantitative"},"y":{"field":"y","type":"quantitative"}}},
{"transform":[{"filter":"datum.k == 'h'"}],"mark":{"type":"rule","color":"#8c8c8c","strokeWidth":2.2},"encoding":{"y":{"field":"y","type":"quantitative"}}},
{"transform":[{"filter":"datum.k == 'v'"}],"mark":{"type":"rule","color":"black","strokeWidth":2.2,"strokeDash":[9,5]},"encoding":{"x":{"field":"x","type":"quantitative"}}},
{"transform":[{"filter":"datum.k == 't'"}],"mark":{"type":"text","fontSize":19,"strokeWidth":6},"encoding":{"x":{"field":"x","type":"quantitative"},"y":{"field":"y","type":"quantitative"},"text":{"field":"t"},"angle":{"field":"g","type":"quantitative","scale":{"domain":[1,2,3,4,5,6,7],"range":[310,322,332,340,346,351,356]}},"fill":{"field":"b","type":"nominal","scale":{"domain":["x","a","n"],"range":["#ff5454","#ffb3b3","#ffffff"]},"legend":null},"stroke":{"field":"b","type":"nominal","scale":{"domain":["x","a","n"],"range":["#ff5454","#ffb3b3","#ffffff"]},"legend":null}}},
{"transform":[{"filter":"datum.k == 't'"}],"mark":{"type":"text","fontSize":19,"color":"black"},"encoding":{"x":{"field":"x","type":"quantitative"},"y":{"field":"y","type":"quantitative"},"text":{"field":"t"},"angle":{"field":"g","type":"quantitative"}}},
{"transform":[{"filter":"datum.k == 'tb'"}],"mark":{"type":"point","shape":"M-1,-0.6H1V0.6H-1Z","size":1764,"filled":true,"fill":"white","stroke":"black","strokeWidth":1,"opacity":1},"encoding":{"x":{"field":"x","type":"quantitative"},"y":{"field":"y","type":"quantitative"}}},
{"transform":[{"filter":"datum.k == 'tb'"}],"mark":{"type":"text","fontSize":19,"color":"black"},"encoding":{"x":{"field":"x","type":"quantitative"},"y":{"field":"y","type":"quantitative"},"text":{"field":"t"}}}
]}
]}
]
}
